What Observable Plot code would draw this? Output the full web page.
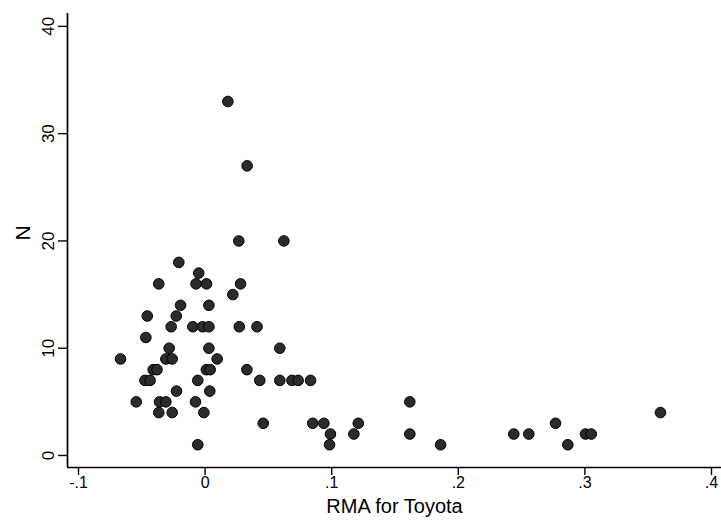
<!DOCTYPE html>
<html>
<head>
<meta charset="utf-8">
<script src="https://cdn.jsdelivr.net/npm/d3@7"></script>
<script src="https://cdn.jsdelivr.net/npm/@observablehq/plot@0.6"></script>
<style>
  html, body { margin: 0; padding: 0; background: #fff; }
  #chart svg { display: block; }
</style>
</head>
<body>
<div id="chart"></div>
<script>
const rma = [
  -0.0668, -0.0544, -0.0475, -0.0435, -0.0468, -0.0457, -0.0366, -0.041, -0.038, -0.036,
  -0.031, -0.0366, -0.026, -0.031, -0.026, -0.0284, -0.0268, -0.0228, -0.0226, -0.0194,
  -0.0208, -0.0097, -0.0076, -0.0058, -0.0058, -0.001, -0.005, -0.0072, 0.0011, -0.002,
  0.003, 0.003, 0.003, 0.001, 0.004, 0.0037, 0.0095, 0.018, 0.0219, 0.0266,
  0.028, 0.027, 0.0332, 0.033, 0.041, 0.0432, 0.0459, 0.059, 0.059, 0.0622,
  0.0686, 0.0735, 0.0833, 0.085, 0.0938, 0.099, 0.0983, 0.1175, 0.121, 0.1617,
  0.1617, 0.186, 0.2438, 0.2557, 0.2768, 0.2865, 0.3005, 0.305, 0.3597
];
const n = [
  9, 5, 7, 7, 11, 13, 16, 8, 8, 5,
  5, 4, 4, 9, 9, 10, 12, 13, 6, 14,
  18, 12, 5, 7, 1, 4, 17, 16, 16, 12,
  12, 14, 10, 8, 8, 6, 9, 33, 15, 20,
  16, 12, 27, 8, 12, 7, 3, 10, 7, 20,
  7, 7, 7, 3, 3, 2, 1, 2, 3, 5,
  2, 1, 2, 2, 3, 1, 2, 2, 4
];
const xTicks = [-0.1, 0, 0.1, 0.2, 0.3, 0.4];
const xTickLabels = ["-.1", "0", ".1", ".2", ".3", ".4"];
const yTicks = [0, 10, 20, 30, 40];
const yTickLabels = ["0", "10", "20", "30", "40"];
const xTitle = "RMA for Toyota";
const yTitle = "N";

const data = rma.map((r, i) => ({rma: r, n: n[i]}));
const xDomain = [-0.1087, 0.4079];
const yDomain = [-1.12, 41.2];

const chart = Plot.plot({
  width: 721,
  height: 522,
  marginLeft: 67,
  marginRight: 0,
  marginTop: 13,
  marginBottom: 55,
  x: {domain: xDomain},
  y: {domain: yDomain},
  style: {fontFamily: "'Liberation Sans', Arial, sans-serif", background: "#fff", color: "#000"},
  marks: [
    Plot.axisX(xTicks, {
      tickSize: 8, tickPadding: 1, fontSize: 16, strokeWidth: 1.4,
      tickFormat: d => xTickLabels[xTicks.indexOf(d)], label: null
    }),
    Plot.axisY(yTicks, {
      tickSize: 9, strokeWidth: 1.4, tickFormat: () => "", label: null
    }),
    Plot.axisY(yTicks, {
      tickSize: 0, tickPadding: 19, fontSize: 17,
      rotate: -90, textAnchor: "middle",
      tickFormat: d => yTickLabels[yTicks.indexOf(d)], label: null
    }),
    Plot.ruleY([yDomain[0]], {stroke: "#000", strokeWidth: 1.7}),
    Plot.ruleX([xDomain[0]], {stroke: "#000", strokeWidth: 1.7}),
    Plot.dot(data, {x: "rma", y: "n", r: 5.3, fill: "#2b2b2b", stroke: "#000", strokeWidth: 1}),
    Plot.text([xTitle], {frameAnchor: "bottom", dy: 45, fontSize: 20, fill: "#000"}),
    Plot.text([yTitle], {frameAnchor: "left", dx: -44, rotate: -90, fontSize: 21, fill: "#000"})
  ]
});
document.getElementById("chart").appendChild(chart);
</script>
</body>
</html>
